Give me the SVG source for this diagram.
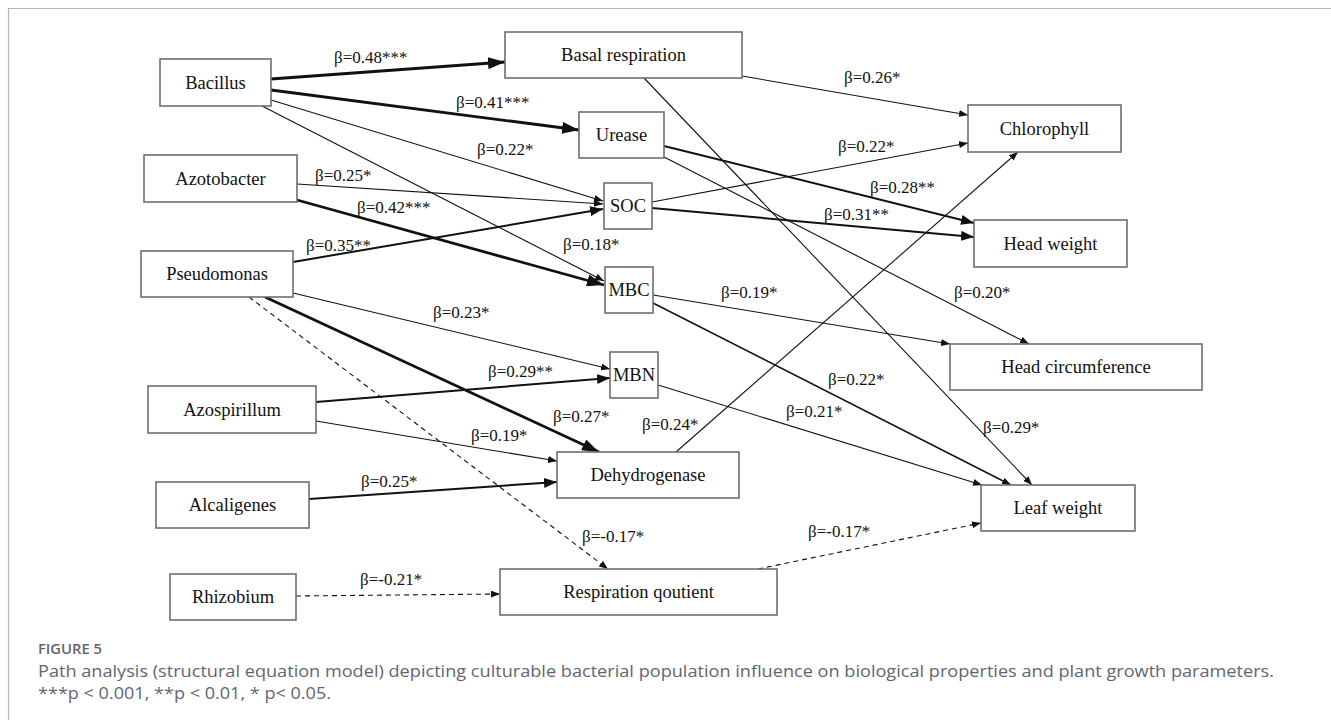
<svg xmlns="http://www.w3.org/2000/svg" width="1331" height="720" viewBox="0 0 1331 720">
<style>
.node rect{fill:#fff;stroke:#6e6e6e;stroke-width:1.6}
.node text{font-family:"Liberation Serif","Times New Roman",serif;font-size:18.5px;fill:#111;text-anchor:middle}
.lbl{font-family:"Liberation Serif","Times New Roman",serif;font-size:17px;fill:#111}
.e{fill:none;stroke:#111}
.thin{stroke-width:1.1;marker-end:url(#ah-sm)}
.med{stroke-width:2;marker-end:url(#ah-md)}
.thick{stroke-width:2.8;marker-end:url(#ah-lg)}
.dash{stroke-width:1.1;stroke-dasharray:5 4;marker-end:url(#ah-sm)}
.cap{font-family:"Open Sans","Noto Sans",sans-serif;fill:#62656f}
</style>
<defs>
<marker id="ah-sm" markerUnits="userSpaceOnUse" markerWidth="9" markerHeight="7" refX="9" refY="3.5" orient="auto"><path d="M0,0 L9,3.5 L0,7 z" fill="#111"/></marker>
<marker id="ah-md" markerUnits="userSpaceOnUse" markerWidth="13" markerHeight="10" refX="13" refY="5" orient="auto"><path d="M0,0 L13,5 L0,10 z" fill="#111"/></marker>
<marker id="ah-lg" markerUnits="userSpaceOnUse" markerWidth="17" markerHeight="12" refX="17" refY="6" orient="auto"><path d="M0,0 L17,6 L0,12 z" fill="#111"/></marker>
</defs>
<rect width="1331" height="720" fill="#fff"/>
<path d="M8.5,720 V8.5 H1331" fill="none" stroke="#b4b4c2" stroke-width="1.2"/>

<g id="connectors">
<line class="e thick" x1="271" y1="79" x2="505" y2="62"/>
<line class="e thick" x1="271" y1="90" x2="579" y2="130"/>
<line class="e thin" x1="271" y1="100" x2="603" y2="201"/>
<line class="e thin" x1="262" y1="106" x2="604" y2="281"/>
<line class="e thin" x1="297" y1="184" x2="603" y2="204"/>
<line class="e thick" x1="297" y1="200" x2="604" y2="285"/>
<line class="e med" x1="293" y1="262" x2="603" y2="209"/>
<line class="e thin" x1="293" y1="293" x2="610" y2="369"/>
<line class="e thick" x1="265" y1="297" x2="599" y2="452"/>
<line class="e dash" x1="249" y1="297" x2="608" y2="569"/>
<line class="e med" x1="316" y1="402" x2="610" y2="378"/>
<line class="e thin" x1="316" y1="421" x2="557" y2="461"/>
<line class="e med" x1="309" y1="499" x2="557" y2="482"/>
<line class="e dash" x1="296" y1="596" x2="500" y2="594"/>
<line class="e thin" x1="676" y1="452" x2="1018" y2="152"/>
<line class="e thin" x1="742" y1="76" x2="968" y2="115"/>
<line class="e thin" x1="644" y1="78" x2="1032" y2="485"/>
<line class="e thin" x1="652" y1="202" x2="968" y2="143"/>
<line class="e med" x1="664" y1="146" x2="974" y2="223"/>
<line class="e med" x1="652" y1="208" x2="974" y2="237"/>
<line class="e thin" x1="664" y1="157" x2="1029" y2="344"/>
<line class="e thin" x1="653" y1="295" x2="950" y2="344"/>
<line class="e thin" x1="653" y1="303" x2="1011" y2="485" style="stroke-width:1.5"/>
<line class="e thin" x1="658" y1="385" x2="982" y2="485"/>
<line class="e dash" x1="758" y1="569" x2="981" y2="523"/>
</g>

<g id="labels" class="lbl">
<text x="334" y="63">β=0.48***</text>
<text x="456" y="108">β=0.41***</text>
<text x="477" y="155">β=0.22*</text>
<text x="315" y="181">β=0.25*</text>
<text x="357" y="213">β=0.42***</text>
<text x="306" y="251">β=0.35**</text>
<text x="563" y="250">β=0.18*</text>
<text x="433" y="318">β=0.23*</text>
<text x="488" y="377">β=0.29**</text>
<text x="553" y="422">β=0.27*</text>
<text x="471" y="441">β=0.19*</text>
<text x="642" y="430">β=0.24*</text>
<text x="361" y="487">β=0.25*</text>
<text x="582" y="542">β=-0.17*</text>
<text x="360" y="585">β=-0.21*</text>
<text x="844" y="83">β=0.26*</text>
<text x="838" y="152">β=0.22*</text>
<text x="870" y="193">β=0.28**</text>
<text x="824" y="220">β=0.31**</text>
<text x="954" y="298">β=0.20*</text>
<text x="721" y="298">β=0.19*</text>
<text x="828" y="385">β=0.22*</text>
<text x="786" y="417">β=0.21*</text>
<text x="983" y="433">β=0.29*</text>
<text x="808" y="537">β=-0.17*</text>
</g>

<g id="bacillus" class="node"><rect x="160" y="59" width="111" height="47"/><text x="215.5" y="89">Bacillus</text></g>
<g id="basal-respiration" class="node"><rect x="505" y="32" width="237" height="46"/><text x="623.5" y="61">Basal respiration</text></g>
<g id="urease" class="node"><rect x="579" y="112" width="85" height="46"/><text x="621.5" y="141">Urease</text></g>
<g id="azotobacter" class="node"><rect x="144" y="155" width="153" height="47"/><text x="220.5" y="185">Azotobacter</text></g>
<g id="soc" class="node"><rect x="604" y="183" width="48" height="46"/><text x="628" y="212">SOC</text></g>
<g id="pseudomonas" class="node"><rect x="141" y="251" width="152" height="46"/><text x="217" y="280">Pseudomonas</text></g>
<g id="mbc" class="node"><rect x="605" y="267" width="48" height="46"/><text x="629" y="296">MBC</text></g>
<g id="mbn" class="node"><rect x="610" y="352" width="48" height="46"/><text x="634" y="381">MBN</text></g>
<g id="chlorophyll" class="node"><rect x="968" y="105" width="153" height="47"/><text x="1044.5" y="135">Chlorophyll</text></g>
<g id="head-weight" class="node"><rect x="974" y="220" width="153" height="47"/><text x="1050.5" y="250">Head weight</text></g>
<g id="head-circumference" class="node"><rect x="950" y="344" width="252" height="46"/><text x="1076" y="373">Head circumference</text></g>
<g id="azospirillum" class="node"><rect x="148" y="386" width="168" height="47"/><text x="232" y="416">Azospirillum</text></g>
<g id="dehydrogenase" class="node"><rect x="557" y="452" width="182" height="46"/><text x="648" y="481">Dehydrogenase</text></g>
<g id="alcaligenes" class="node"><rect x="156" y="482" width="153" height="46"/><text x="232.5" y="511">Alcaligenes</text></g>
<g id="leaf-weight" class="node"><rect x="981" y="485" width="154" height="46"/><text x="1058" y="514">Leaf weight</text></g>
<g id="respiration-qoutient" class="node"><rect x="500" y="569" width="277" height="46"/><text x="638.5" y="598">Respiration qoutient</text></g>
<g id="rhizobium" class="node"><rect x="170" y="574" width="126" height="46"/><text x="233" y="603">Rhizobium</text></g>

<g id="caption">
<text class="cap" x="38" y="654" font-size="14" font-weight="600" fill="#555866" textLength="64" lengthAdjust="spacingAndGlyphs">FIGURE 5</text>
<text class="cap" x="38" y="677" font-size="16.5" textLength="1236" lengthAdjust="spacingAndGlyphs">Path analysis (structural equation model) depicting culturable bacterial population influence on biological properties and plant growth parameters.</text>
<text class="cap" x="38" y="699" font-size="16.5" textLength="293" lengthAdjust="spacingAndGlyphs">***p &lt; 0.001, **p &lt; 0.01, * p&lt; 0.05.</text>
</g>
</svg>
